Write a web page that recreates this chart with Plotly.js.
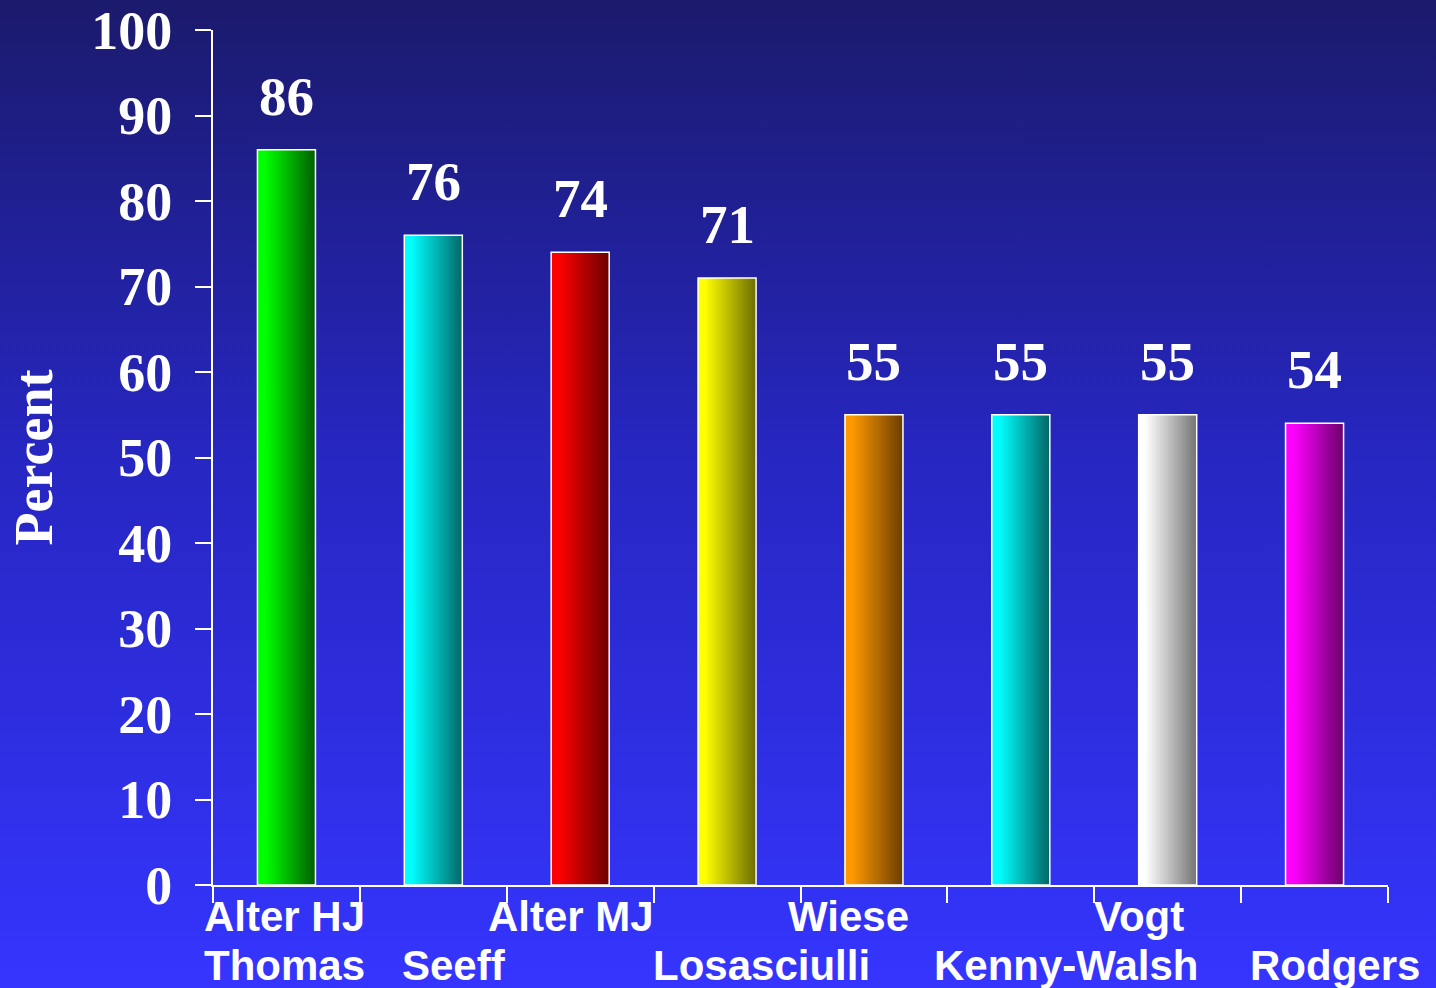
<!DOCTYPE html>
<html>
<head>
<meta charset="utf-8">
<script src="https://cdn.plot.ly/plotly-3.0.1.min.js"></script>
<style>
  html, body { margin: 0; padding: 0; width: 1436px; height: 988px; overflow: hidden; }
  body { background: linear-gradient(to bottom, #1b1a6c 0%, #2626c0 45%, #3535ff 100%); }
  #chart { width: 1436px; height: 988px; }
</style>
</head>
<body>
<div id="chart"></div>
<script>
// ---- data ----
const categories = ["Alter HJ / Thomas", "Seeff", "Alter MJ", "Losasciulli", "Wiese", "Kenny-Walsh", "Vogt", "Rodgers"];
const values = [86, 76, 74, 71, 55, 55, 55, 54];
const topRowLabels = ["Alter HJ", "", "Alter MJ", "", "Wiese", "", "Vogt", ""];
const bottomRowLabels = ["Thomas", "Seeff", "", "Losasciulli", "", "Kenny-Walsh", "", "Rodgers"];
const yTickValues = [0, 10, 20, 30, 40, 50, 60, 70, 80, 90, 100];

// ---- style ----
const brightColors = [[0,255,0],[0,255,255],[255,0,0],[255,255,0],[255,153,0],[0,255,255],[255,255,255],[255,0,255]];
const darkColors   = [[0,100,0],[0,106,106],[112,0,0],[112,112,0],[110,64,0],[0,106,106],[119,119,119],[112,0,112]];
const topShift    = [-2, 0, -9, 0, -25, 0, -29, 0];
const bottomShift = [-2, 21, 0, 34, 0, 45, 0, 20];
const barWidth = 0.395;
const slices = 30;
const serif = "Liberation Serif, Times New Roman, serif";
const sans = "Liberation Sans, Arial, sans-serif";

function mix(a, b, f) {
  return 'rgb(' + a.map((v, i) => Math.round(v * (1 - f) + b[i] * f)).join(',') + ')';
}

const traces = [];
for (let k = 0; k < slices; k++) {
  const t = (k + 0.5) / slices;
  const f = t < 0.12 ? 0 : Math.min(1, (t - 0.12) / 0.86);
  const step = barWidth / slices;
  const w = (k === slices - 1) ? step : step * 1.6;
  traces.push({
    type: 'bar',
    x: categories,
    y: values,
    width: categories.map(() => w),
    offset: categories.map(() => -barWidth / 2 + k * step),
    marker: { color: brightColors.map((c, i) => mix(c, darkColors[i], f)), line: { width: 0 } },
    hoverinfo: 'skip',
    showlegend: false
  });
}
// outline
traces.push({
  type: 'bar',
  x: categories,
  y: values,
  width: categories.map(() => barWidth),
  offset: categories.map(() => -barWidth / 2),
  marker: { color: 'rgba(0,0,0,0)', line: { color: '#ffffff', width: 1.5 } },
  hoverinfo: 'skip',
  showlegend: false
});

const annotations = [];
values.forEach((v, i) => {
  annotations.push({
    x: categories[i], y: v, xref: 'x', yref: 'y',
    text: String(v), showarrow: false,
    xanchor: 'center', yanchor: 'bottom', yshift: 21,
    font: { family: serif, size: 55, color: '#ffffff', weight: 'bold' }
  });
});
topRowLabels.forEach((t, i) => {
  if (!t) return;
  annotations.push({
    x: categories[i], y: -0.0363, xref: 'x', yref: 'paper',
    text: t, showarrow: false, xanchor: 'center', yanchor: 'middle', xshift: topShift[i],
    font: { family: sans, size: 42, color: '#ffffff', weight: 'bold' }
  });
});
bottomRowLabels.forEach((t, i) => {
  if (!t) return;
  annotations.push({
    x: categories[i], y: -0.0947, xref: 'x', yref: 'paper',
    text: t, showarrow: false, xanchor: 'center', yanchor: 'middle', xshift: bottomShift[i],
    font: { family: sans, size: 42, color: '#ffffff', weight: 'bold' }
  });
});

const layout = {
  width: 1436, height: 988,
  margin: { l: 213, r: 48, t: 30, b: 103, pad: 0 },
  paper_bgcolor: 'rgba(0,0,0,0)',
  plot_bgcolor: 'rgba(0,0,0,0)',
  barmode: 'overlay',
  showlegend: false,
  xaxis: {
    type: 'category',
    categoryorder: 'array', categoryarray: categories,
    range: [-0.5, categories.length - 0.5],
    showticklabels: false,
    tickson: 'boundaries',
    ticks: 'outside', ticklen: 16, tickwidth: 2, tickcolor: '#ffffff',
    showline: true, linecolor: '#ffffff', linewidth: 2,
    showgrid: false, zeroline: false, fixedrange: true
  },
  yaxis: {
    range: [0, 100],
    tickvals: yTickValues,
    ticktext: yTickValues.map(String),
    ticks: 'outside', ticklen: 16, tickwidth: 2, tickcolor: '#ffffff',
    ticklabelstandoff: 12,
    showline: true, linecolor: '#ffffff', linewidth: 2,
    showgrid: false, zeroline: false, fixedrange: true,
    tickfont: { family: serif, size: 54, color: '#ffffff', weight: 'bold' },
    title: { text: 'Percent', standoff: 21, font: { family: serif, size: 54, color: '#ffffff', weight: 'bold' } }
  },
  annotations: annotations
};

Plotly.newPlot('chart', traces, layout, { displayModeBar: false, staticPlot: true });
</script>
</body>
</html>
